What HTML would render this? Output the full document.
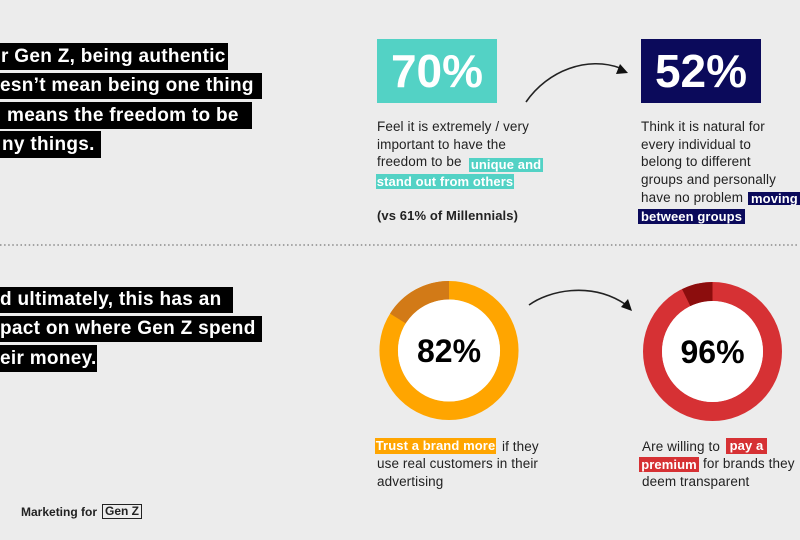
<!DOCTYPE html>
<html>
<head>
<meta charset="utf-8">
<style>
  html,body{margin:0;padding:0;}
  body{width:800px;height:540px;background:#ececec;position:relative;overflow:hidden;font-family:"Liberation Sans",Arial,sans-serif;}
  .blk{position:absolute;left:0;background:#000;color:#fff;font-weight:bold;font-size:19px;letter-spacing:0.3px;white-space:nowrap;overflow:hidden;box-sizing:border-box;}
  .t{position:absolute;font-size:13.5px;line-height:17px;height:17px;color:#222;white-space:nowrap;letter-spacing:0.1px;}
  .hl{position:absolute;color:#fff;font-weight:bold;font-size:13px;white-space:nowrap;text-align:center;box-sizing:border-box;overflow:hidden;letter-spacing:0.1px;}
  .big{position:absolute;color:#fff;font-weight:bold;font-size:46px;text-align:center;line-height:64px;}
  svg{position:absolute;left:0;top:0;}
</style>
</head>
<body>
<svg width="800" height="540" viewBox="0 0 800 540">
  <line x1="0" y1="245" x2="798" y2="245" stroke="#8a8a8a" stroke-width="1.5" stroke-dasharray="1.5 2.6"/>
  <path d="M526 102 C548 70 588 56 620 68" fill="none" stroke="#222" stroke-width="1.6"/>
  <polygon points="628,73 616,74 620,64" fill="#111"/>
  <path d="M529 305 C548 291 590 281 625 304" fill="none" stroke="#222" stroke-width="1.6"/>
  <polygon points="632,311 621,307 628,299" fill="#111"/>
  <circle cx="449" cy="350.5" r="60.3" fill="none" stroke="#ffa500" stroke-width="18.5"/>
  <path d="M449 290.2 A60.3 60.3 0 0 0 397.9 318.5" fill="none" stroke="#d27a17" stroke-width="18.5"/>
  <circle cx="449" cy="350.5" r="51" fill="#fff"/>
  <text x="449" y="362" text-anchor="middle" font-family="Liberation Sans, Arial, sans-serif" font-weight="bold" font-size="32" fill="#000">82%</text>
  <circle cx="712.5" cy="351.5" r="60" fill="none" stroke="#d63134" stroke-width="19"/>
  <path d="M712.5 291.5 A60 60 0 0 0 686.2 297.6" fill="none" stroke="#8c0d0d" stroke-width="19"/>
  <circle cx="712.5" cy="351.5" r="50.5" fill="#fff"/>
  <text x="712.5" y="363" text-anchor="middle" font-family="Liberation Sans, Arial, sans-serif" font-weight="bold" font-size="32" fill="#000">96%</text>
</svg>

<div class="blk" style="top:43px;width:228px;height:27px;line-height:27px;padding-left:1px;">r Gen Z, being authentic</div>
<div class="blk" style="top:73px;width:262px;height:26px;line-height:26px;padding-left:0px;">esn’t mean being one thing</div>
<div class="blk" style="top:102px;width:252px;height:27px;line-height:27px;padding-left:7px;">means the freedom to be</div>
<div class="blk" style="top:131px;width:101px;height:27px;line-height:27px;padding-left:2px;">ny things.</div>

<div class="blk" style="top:287px;width:233px;height:26px;line-height:26px;padding-left:0px;">d ultimately, this has an</div>
<div class="blk" style="top:316px;width:262px;height:26px;line-height:26px;padding-left:0px;">pact on where Gen Z spend</div>
<div class="blk" style="top:345px;width:97px;height:27px;line-height:27px;padding-left:0px;">eir money.</div>

<div class="big" style="left:377px;top:39px;width:120px;height:64px;background:#53d2c5;">70%</div>
<div class="big" style="left:641px;top:39px;width:120px;height:64px;background:#0b0a5b;">52%</div>

<div class="t" style="left:377px;top:118px;">Feel it is extremely / very</div>
<div class="t" style="left:377px;top:136px;">important to have the</div>
<div class="t" style="left:377px;top:153px;">freedom to be</div>
<div class="hl" style="left:469px;top:158px;width:74px;height:14px;line-height:14px;background:#53d2c5;">unique and</div>
<div class="hl" style="left:376px;top:174px;width:138px;height:15px;line-height:15px;background:#53d2c5;">stand out from others</div>
<div class="t" style="left:377px;top:207px;font-weight:bold;font-size:13px;">(vs 61% of Millennials)</div>

<div class="t" style="left:641px;top:118px;">Think it is natural for</div>
<div class="t" style="left:641px;top:136px;">every individual to</div>
<div class="t" style="left:641px;top:153px;">belong to different</div>
<div class="t" style="left:641px;top:171px;">groups and personally</div>
<div class="t" style="left:641px;top:189px;">have no problem</div>
<div class="hl" style="left:748px;top:192px;width:52px;height:13px;line-height:13px;background:#0b0a5b;text-align:left;padding-left:3px;">moving</div>
<div class="hl" style="left:638px;top:209px;width:107px;height:15px;line-height:15px;background:#0b0a5b;">between groups</div>

<div class="hl" style="left:375px;top:438px;width:121px;height:16px;line-height:16px;background:#ffa500;">Trust a brand more</div>
<div class="t" style="left:502px;top:438px;">if they</div>
<div class="t" style="left:377px;top:455px;">use real customers in their</div>
<div class="t" style="left:377px;top:473px;">advertising</div>

<div class="t" style="left:642px;top:438px;">Are willing to</div>
<div class="hl" style="left:726px;top:438px;width:41px;height:16px;line-height:16px;background:#d63134;">pay a</div>
<div class="hl" style="left:639px;top:457px;width:60px;height:15px;line-height:15px;background:#d63134;">premium</div>
<div class="t" style="left:703px;top:455px;">for brands they</div>
<div class="t" style="left:642px;top:473px;">deem transparent</div>

<div style="position:absolute;left:21px;top:504px;font-size:12px;line-height:16px;font-weight:bold;color:#222;white-space:nowrap;">Marketing for</div>
<div style="position:absolute;left:102px;top:504px;width:40px;height:15px;border:1.5px solid #222;box-sizing:border-box;font-size:12px;line-height:12px;font-weight:bold;color:#222;text-align:center;">Gen Z</div>
</body>
</html>
